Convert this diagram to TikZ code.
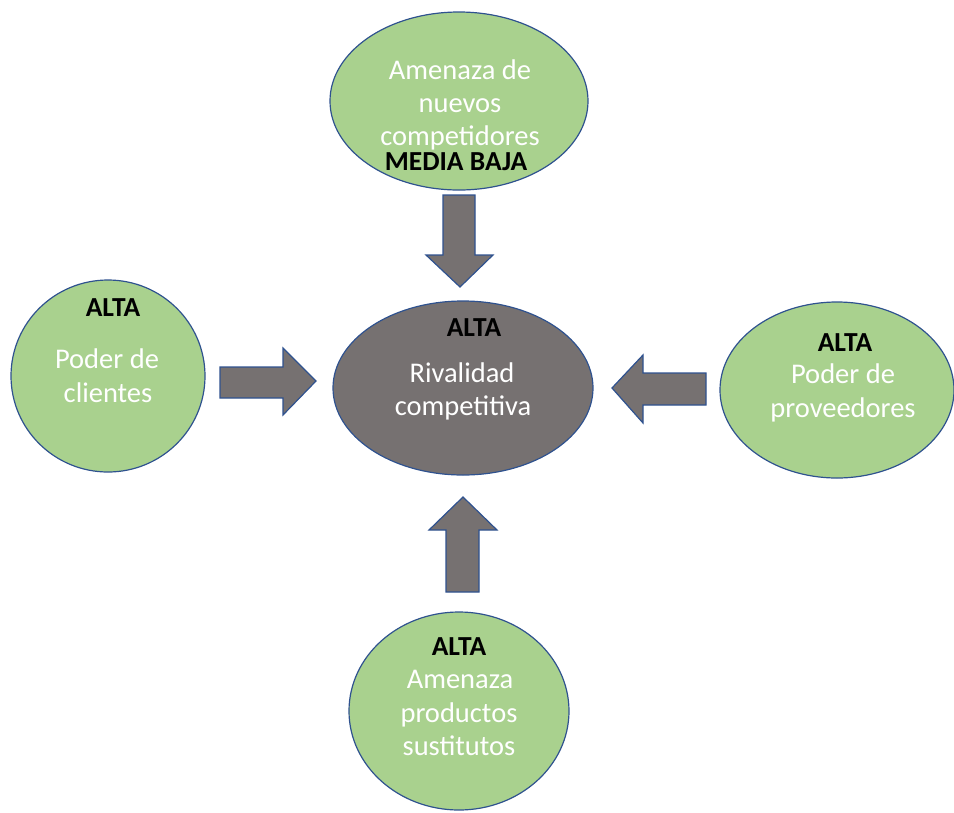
\documentclass[tikz,border=0pt]{standalone}
\usepackage{fontspec}
\setmainfont{Carlito}
\usetikzlibrary{shapes.geometric}
\definecolor{ovalgreen}{HTML}{A9D18E}
\definecolor{ovalgray}{HTML}{767171}
\definecolor{edgeblue}{HTML}{2F528F}
\tikzset{
  oval/.style={ellipse, draw=edgeblue, line width=1.2pt, fill=ovalgreen, inner sep=0pt, outer sep=0pt},
  centeroval/.style={oval, fill=ovalgray},
  wtext/.style={text=white, anchor=base, inner sep=0pt, font=\fontsize{28.5}{33}\selectfont},
  btext/.style={text=black, anchor=base, inner sep=0pt, font=\bfseries\fontsize{27.5}{31}\selectfont},
  blockarrow/.style={draw=edgeblue, line width=1.2pt, fill=ovalgray, line join=miter}
}
\begin{document}
\begin{tikzpicture}[x=1pt,y=-1pt]
\useasboundingbox (0,0) rectangle (954,812);
% ovals
\node[oval, minimum width=258pt, minimum height=178pt] (top) at (459,101) {};
\node[centeroval, minimum width=260pt, minimum height=174pt] (mid) at (463,388) {};
\node[oval, minimum width=194pt, minimum height=192pt] (left) at (108,376) {};
\node[oval, minimum width=234pt, minimum height=176pt] (right) at (837,390) {};
\node[oval, minimum width=220pt, minimum height=198pt] (bottom) at (459,711) {};
% texts top
\node[wtext] (t1) at (460,79) {Amenaza de};
\node[wtext] (t2) at (460,112) {nuevos};
\node[wtext] (t3) at (460,145) {competidores};
\node[btext] (t4) at (456,170) {MEDIA BAJA};
% texts center
\node[btext] (c1) at (474,336) {ALTA};
\node[wtext] (c2) at (462,382) {Rivalidad};
\node[wtext] (c3) at (463,415) {competitiva};
% texts left
\node[btext] (l1) at (113,316) {ALTA};
\node[wtext] (l2) at (107,368) {Poder de};
\node[wtext] (l3) at (108,402) {clientes};
% texts right
\node[btext] (r1) at (845,351) {ALTA};
\node[wtext] (r2) at (843,383) {Poder de};
\node[wtext] (r3) at (843,417) {proveedores};
% texts bottom
\node[btext] (b1) at (459,655) {ALTA};
\node[wtext] (b2) at (460,688) {Amenaza};
\node[wtext] (b3) at (459,722) {productos};
\node[wtext] (b4) at (459,755) {sustitutos};
% block arrows
\draw[blockarrow] (443,195) -- (475,195) -- (475,255) -- (493,255) -- (460,287) -- (426,255) -- (443,255) -- cycle;
\draw[blockarrow] (220,367) -- (283,367) -- (283,348) -- (316,381) -- (283,415) -- (283,398) -- (220,398) -- cycle;
\draw[blockarrow] (706,373) -- (643,373) -- (643,355) -- (612,388) -- (643,423) -- (643,405) -- (706,405) -- cycle;
\draw[blockarrow] (446,592) -- (446,530) -- (429,530) -- (463,497) -- (497,530) -- (479,530) -- (479,592) -- cycle;
\end{tikzpicture}
\end{document}
